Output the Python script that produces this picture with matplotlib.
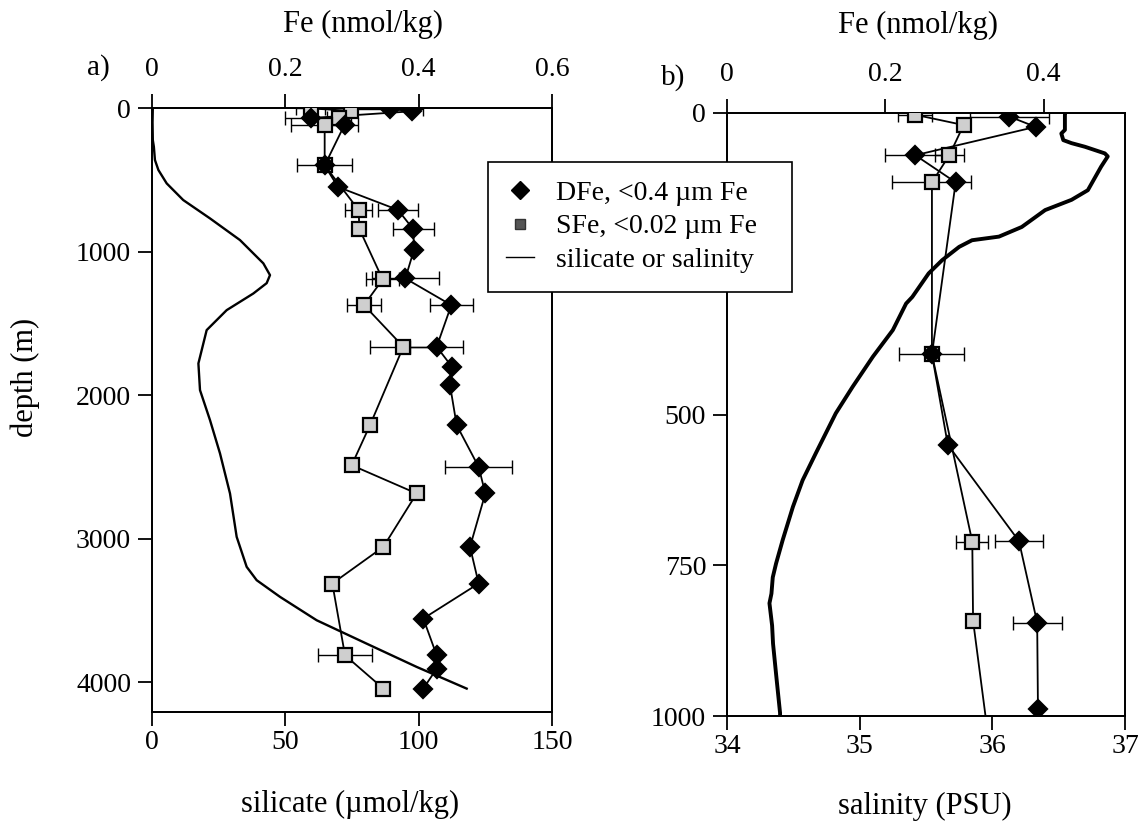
import numpy as np
import matplotlib
matplotlib.use('Agg')
import matplotlib.pyplot as plt
from matplotlib.lines import Line2D
from matplotlib.patches import Rectangle

plt.rcParams['font.family'] = ['Liberation Serif', 'DejaVu Serif']

# dissolved Fe (<0.4 um), nmol/kg vs depth (m)
dfe_depth = [6, 23, 70, 115, 400, 550, 710, 845, 988, 1187, 1373, 1663, 1803, 1930,
             2209, 2500, 2685, 3057, 3312, 3556, 3812, 3905, 4044]
dfe = [0.357, 0.390, 0.238, 0.289, 0.259, 0.279, 0.369, 0.392, 0.393, 0.380, 0.449, 0.427,
       0.450, 0.447, 0.457, 0.490, 0.500, 0.477, 0.490, 0.407, 0.427, 0.427, 0.407]
dfe_err = [0.05, np.nan, 0.038, np.nan, 0.041, np.nan, 0.03, 0.031, np.nan, 0.05, 0.032, 0.04,
           np.nan, np.nan, np.nan, 0.05, np.nan, np.nan, np.nan, np.nan, np.nan, np.nan, np.nan]

# soluble Fe (<0.02 um)
sfe_depth = [3, 20, 70, 115, 400, 711, 842, 1194, 1373, 1663, 2209, 2488, 2685, 3057,
             3312, 3812, 4044]
sfe = [0.238, 0.299, 0.281, 0.259, 0.259, 0.310, 0.311, 0.346, 0.318, 0.377, 0.327, 0.2995,
       0.397, 0.347, 0.2705, 0.2895, 0.347]
sfe_err = [0.0215, np.nan, 0.018, 0.05, np.nan, 0.02, np.nan, 0.025, 0.026, 0.05, np.nan,
           np.nan, np.nan, np.nan, np.nan, 0.04, np.nan]

# silicate profile (umol/kg)
si_depth = [0, 100, 223, 270, 362, 432, 525, 641, 769, 920, 1082, 1164, 1220, 1292, 1408,
            1547, 1779, 1965, 2174, 2406, 2685, 2987, 3196, 3289, 3405, 3568, 3731, 3893, 4044]
silicate = [0.3, 0.2, 0.3, 0.7, 1.1, 2.4, 5.5, 11.7, 21.75, 33.0, 41.75, 44.25, 43.0, 38.0, 28.0,
            20.5, 17.4, 18.0, 21.75, 25.5, 29.25, 31.75, 35.5, 39.25, 48.0, 61.75, 80.5, 99.25, 118.0]

# salinity profile (PSU), upper 1000 m
sal_depth = [0, 3, 28, 34, 45, 50, 56, 67, 72, 89, 128, 144, 161, 189, 205, 211, 222, 244,
             266, 305, 316, 360, 404, 454, 498, 564, 609, 653, 708, 747, 770, 797, 813,
             850, 880, 935, 995, 1000]
salinity = [36.55, 36.547, 36.547, 36.52, 36.535, 36.597, 36.698, 36.848, 36.87, 36.82, 36.72,
            36.597, 36.398, 36.222, 36.05, 35.847, 35.75, 35.622, 35.52, 35.397, 35.35, 35.25,
            35.1, 34.947, 34.82, 34.67, 34.57, 34.497, 34.42, 34.37, 34.345, 34.335, 34.32,
            34.34, 34.347, 34.372, 34.4, 34.4]

fig = plt.figure(figsize=(11.45, 8.24), dpi=100)
W, H = 1145.0, 824.0
axa = fig.add_axes([152 / W, 1 - 712 / H, 400 / W, 604 / H])
axb = fig.add_axes([727 / W, 1 - 716 / H, 398 / W, 603 / H])


def fe_series(ax, depth, val, err, marker, ms, face):
    depth = np.array(depth)
    val = np.array(val)
    err = np.array(err)
    ax.plot(val, depth, '-', color='black', lw=1.3, zorder=2)
    ok = ~np.isnan(err)
    ax.errorbar(val[ok], depth[ok], xerr=err[ok], fmt='none', ecolor='black',
                elinewidth=1.0, capsize=5, capthick=1.0, zorder=1)
    ax.plot(val, depth, linestyle='none', marker=marker, ms=ms, mfc=face,
            mec='black', mew=1.6, zorder=3)


def style(ax, top):
    for s in ax.spines.values():
        s.set_linewidth(1.3)
    ax.tick_params(axis='both', direction='out', length=10, width=1.3,
                   labelsize=20, color='black')
    if top:
        ax.tick_params(axis='x', pad=9)
    else:
        ax.tick_params(axis='x', pad=3)
        ax.tick_params(axis='y', pad=5)


# panel a
axa.plot(silicate, si_depth, color='black', lw=1.7, zorder=2)
axa.set_xlim(0, 150)
axa.set_ylim(4207, 0)
axa.set_xticks([0, 50, 100, 150])
axa.set_yticks([0, 1000, 2000, 3000, 4000])
axa_fe = axa.twiny()
axa_fe.set_xlim(0, 0.6)
axa_fe.set_xticks([0, 0.2, 0.4, 0.6])
axa_fe.set_xticklabels(['0', '0.2', '0.4', '0.6'])
fe_series(axa_fe, sfe_depth, sfe, sfe_err, 's', 10, '#cfcfcf')
fe_series(axa_fe, dfe_depth, dfe, dfe_err, 'D', 9, 'black')
style(axa, False)
style(axa_fe, True)

# panel b (250 label sits under the legend box)
axb.plot(salinity, sal_depth, color='black', lw=2.8, zorder=2)
axb.set_xlim(34, 37)
axb.set_ylim(1000, 0)
axb.set_xticks([34, 35, 36, 37])
axb.set_yticks([0, 250, 500, 750, 1000])
axb.set_yticklabels(['0', '', '500', '750', '1000'])
axb_fe = axb.twiny()
axb_fe.set_xlim(0, 0.503)
axb_fe.set_xticks([0, 0.2, 0.4])
axb_fe.set_xticklabels(['0', '0.2', '0.4'])
fe_series(axb_fe, sfe_depth, sfe, sfe_err, 's', 10, '#cfcfcf')
fe_series(axb_fe, dfe_depth, dfe, dfe_err, 'D', 9, 'black')
style(axb, False)
style(axb_fe, True)

# axis titles
fig.text(363 / W, 1 - 24 / H, 'Fe (nmol/kg)', fontsize=22, ha='center', va='center')
fig.text(918 / W, 1 - 25 / H, 'Fe (nmol/kg)', fontsize=22, ha='center', va='center')
fig.text(350 / W, 1 - 804 / H, 'silicate (\u00b5mol/kg)', fontsize=22, ha='center', va='center')
fig.text(925 / W, 1 - 806 / H, 'salinity (PSU)', fontsize=22, ha='center', va='center')
fig.text(25 / W, 1 - 377 / H, 'depth (m)', fontsize=22, ha='center', va='center', rotation=90)
fig.text(98 / W, 1 - 68 / H, 'a)', fontsize=21, ha='center', va='center')
fig.text(673 / W, 1 - 78 / H, 'b)', fontsize=21, ha='center', va='center')

# legend box spanning both panels
box = Rectangle((488 / W, 1 - 292 / H), 304 / W, 130 / H, transform=fig.transFigure,
                facecolor='white', edgecolor='black', lw=1.2, zorder=4)
fig.add_artist(box)
handles = [
    Line2D([], [], linestyle='none', marker='D', ms=9, mfc='black', mec='black'),
    Line2D([], [], linestyle='none', marker='s', ms=7, mfc='#555555', mec='#333333'),
    Line2D([], [], color='black', lw=1.0),
]
labels = ['DFe, <0.4 \u00b5m Fe', 'SFe, <0.02 \u00b5m Fe', 'silicate or salinity']
leg = fig.legend(handles, labels, loc='upper left', bbox_to_anchor=(488 / W, 1 - 162 / H),
                 fontsize=20, frameon=False, borderaxespad=0, handlelength=1.0,
                 handletextpad=0.8, labelspacing=0.3, borderpad=0.65)
leg.set_zorder(5)

fig.savefig('out.png', dpi=100)
